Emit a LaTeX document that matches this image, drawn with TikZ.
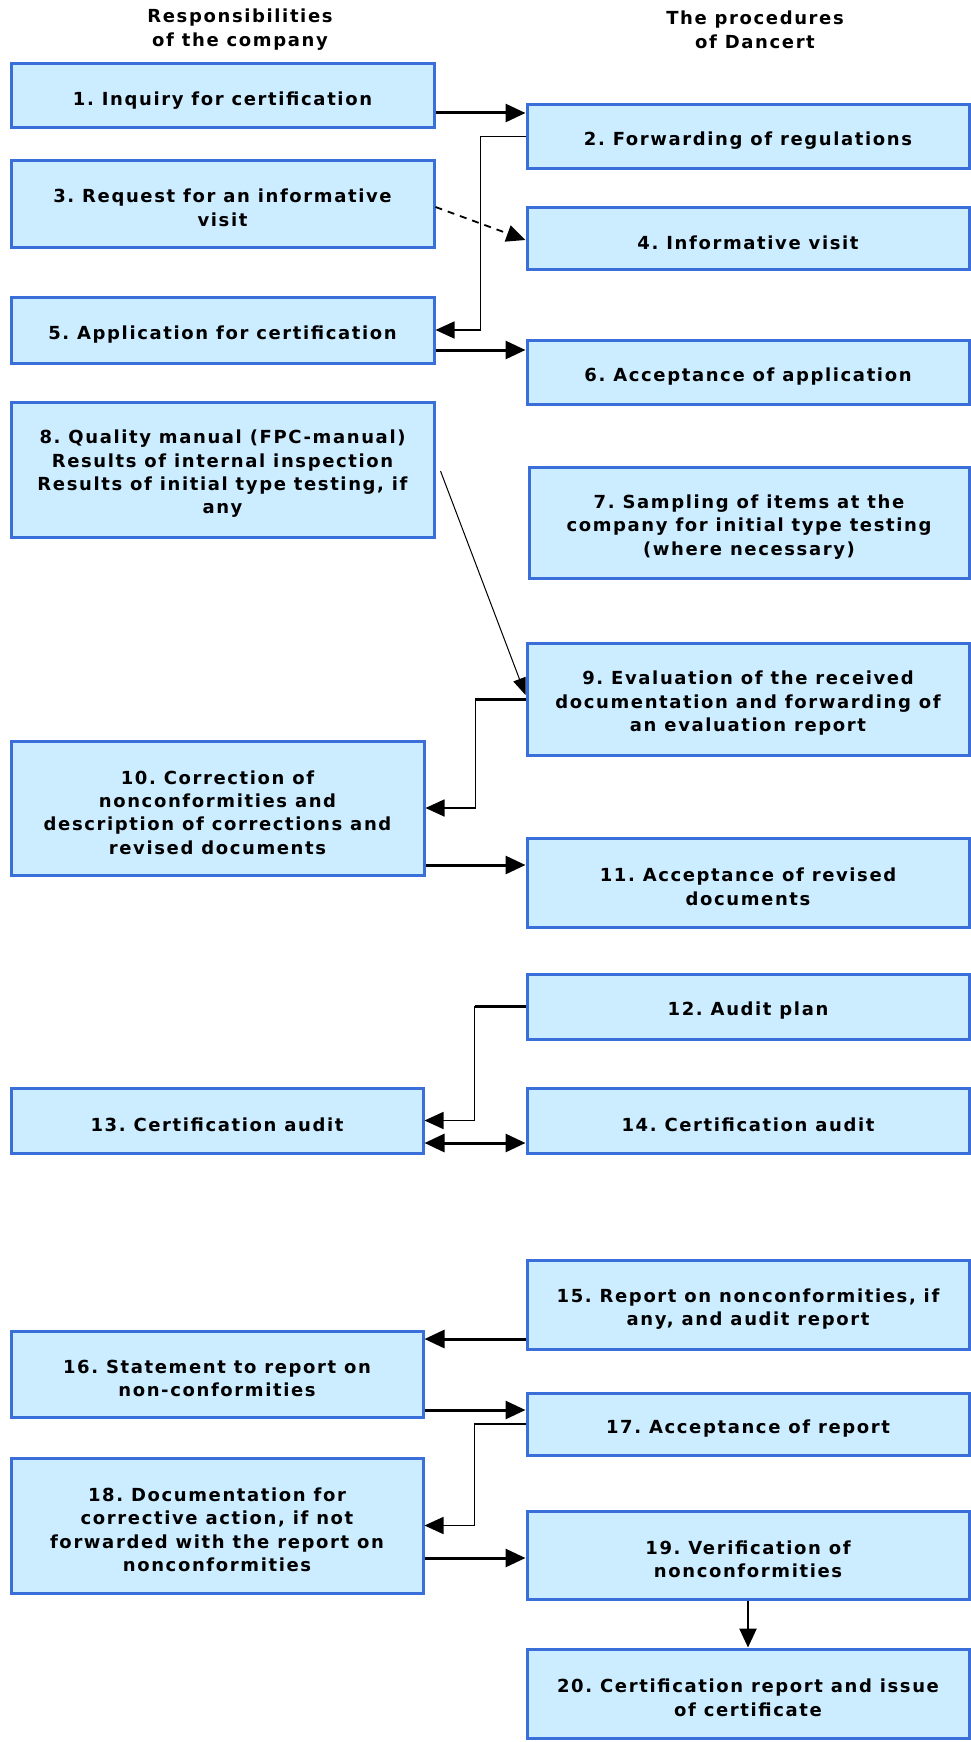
\documentclass[tikz,border=0pt]{standalone}
\usepackage{fontspec}
\setmainfont{DejaVu Sans}
\newfontfamily\bxfont[LetterSpace=9]{DejaVu Sans}
\usetikzlibrary{arrows.meta}
\definecolor{boxfill}{RGB}{204,236,255}
\definecolor{boxline}{RGB}{58,110,216}
\newcommand\tstrut{\rule{0pt}{22.5pt}}
\tikzset{
  box/.style={draw=boxline, fill=boxfill, line width=3pt, align=center, inner sep=2pt,
    font=\fontsize{18}{23.4}\selectfont\bxfont\bfseries\frenchspacing},
  hdr/.style={align=center, font=\fontsize{18}{24}\selectfont\bxfont\bfseries\frenchspacing},
  bigarrow/.style={line width=3pt, -{Triangle[length=20pt,width=18pt]}},
  twoarrow/.style={line width=3pt, {Triangle[length=20pt,width=18pt]}-{Triangle[length=20pt,width=18pt]}},
  thinarrow/.style={line width=1.7pt, -{Triangle[length=19pt,width=17pt]}},
  thickseg/.style={line width=3pt},
  dasharrow/.style={line width=1.8pt, dash pattern=on 7pt off 6pt, -{Triangle[length=19pt,width=17pt]}},
  diagarrow/.style={line width=1pt, -{Triangle[length=17pt,width=13pt]}},
}
\begin{document}
\begin{tikzpicture}[x=1pt,y=1pt]
\useasboundingbox (0,0) rectangle (971,-1742);
% headers
\node[hdr] (h1) at (240,-30) {Responsibilities\\of the company};
\node[hdr] (h2) at (755,-30) {The procedures\\of Dancert};
% boxes
\node[box, minimum width=423, minimum height=64] (b1) at (222.5,-96) {\tstrut 1. Inquiry for certification};
\node[box, minimum width=442, minimum height=63] (b2) at (748,-136.5) {\tstrut 2. Forwarding of regulations};
\node[box, minimum width=423, minimum height=87] (b3) at (222.5,-203.5) {\tstrut 3. Request for an informative\\visit};
\node[box, minimum width=442, minimum height=62] (b4) at (748,-238) {\tstrut 4. Informative visit};
\node[box, minimum width=423, minimum height=66] (b5) at (222.5,-330) {\tstrut 5. Application for certification};
\node[box, minimum width=442, minimum height=64] (b6) at (748,-372) {\tstrut 6. Acceptance of application};
\node[box, minimum width=423, minimum height=135] (b8) at (222.5,-469.5) {\tstrut 8. Quality manual (FPC-manual)\\Results of internal inspection\\Results of initial type testing, if\\any};
\node[box, minimum width=440, minimum height=111] (b7) at (749,-522.5) {\tstrut 7. Sampling of items at the\\company for initial type testing\\(where necessary)};
\node[box, minimum width=442, minimum height=112] (b9) at (748,-699) {\tstrut 9. Evaluation of the received\\documentation and forwarding of\\an evaluation report};
\node[box, minimum width=413, minimum height=134] (b10) at (217.5,-808) {\tstrut 10. Correction of\\nonconformities and\\description of corrections and\\revised documents};
\node[box, minimum width=442, minimum height=89] (b11) at (748,-882.5) {\tstrut 11. Acceptance of revised\\documents};
\node[box, minimum width=442, minimum height=65] (b12) at (748,-1006.5) {\tstrut 12. Audit plan};
\node[box, minimum width=412, minimum height=65] (b13) at (217,-1120.5) {\tstrut 13. Certification audit};
\node[box, minimum width=442, minimum height=65] (b14) at (748,-1120.5) {\tstrut 14. Certification audit};
\node[box, minimum width=442, minimum height=89] (b15) at (748,-1304.5) {\tstrut 15. Report on nonconformities, if\\any, and audit report};
\node[box, minimum width=412, minimum height=86] (b16) at (217,-1374) {\tstrut 16. Statement to report on\\non-conformities};
\node[box, minimum width=442, minimum height=62] (b17) at (748,-1424) {\tstrut 17. Acceptance of report};
\node[box, minimum width=412, minimum height=135] (b18) at (217,-1525.5) {\tstrut 18. Documentation for\\corrective action, if not\\forwarded with the report on\\nonconformities};
\node[box, minimum width=442, minimum height=88] (b19) at (748,-1555) {\tstrut 19. Verification of\\nonconformities};
\node[box, minimum width=442, minimum height=89] (b20) at (748,-1693.5) {\tstrut 20. Certification report and issue\\of certificate};
% connectors
\draw[bigarrow] (b1.east |- 0,-113) -- (b2.west |- 0,-113);
\draw[dasharrow] (b3.east |- 0,-207) -- (b4.west |- 0,-240);
\draw[thinarrow] (b2.west) -- ++(-45,0) |- (b5.east);
\draw[bigarrow] (b5.east |- 0,-350) -- (b6.west |- 0,-350);
\draw[diagarrow] ([xshift=5pt]b8.east |- 0,-471) -- (b9.west |- 0,-695);
\draw[thinarrow] (b9.west) -- ++(-50,0) |- (b10.east);
\draw[thickseg] (b9.west) -- ++(-50,0);
\draw[bigarrow] (b10.east |- 0,-865) -- (b11.west |- 0,-865);
\draw[thinarrow] (b12.west) -- ++(-51,0) |- (b13.east);
\draw[thickseg] (b12.west) -- ++(-51,0);
\draw[twoarrow] (b13.east |- 0,-1143) -- (b14.west |- 0,-1143);
\draw[bigarrow] (b15.west |- 0,-1339) -- (b16.east |- 0,-1339);
\draw[bigarrow] (b16.east |- 0,-1410) -- (b17.west |- 0,-1410);
\draw[thinarrow] (b17.west) -- ++(-51,0) |- (b18.east);
\draw[bigarrow] (b18.east |- 0,-1558) -- (b19.west |- 0,-1558);
\draw[line width=2.5pt, -{Triangle[length=19pt,width=17pt]}] (b19.south) -- (b20.north);
\end{tikzpicture}
\end{document}
